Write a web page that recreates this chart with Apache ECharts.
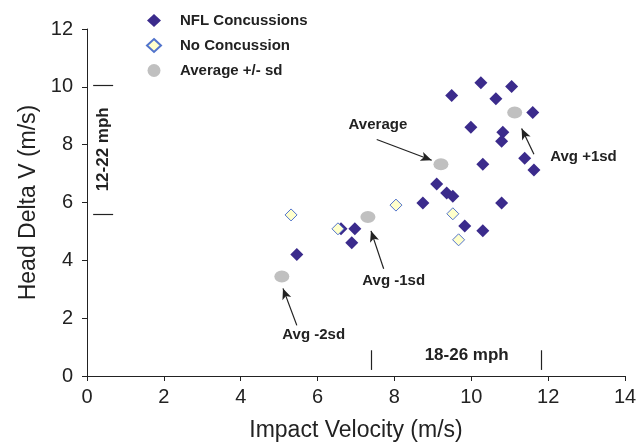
<!DOCTYPE html>
<html>
<head>
<meta charset="utf-8">
<script src="https://cdn.jsdelivr.net/npm/echarts@6/dist/echarts.min.js"></script>
<style>html,body{margin:0;padding:0;background:#fff}#c{width:644px;height:447px}</style>
</head>
<body>
<div id="c"></div>
<script>
// Data
const nflX = [5.46, 6.61, 6.97, 6.89, 8.74, 9.10, 9.36, 9.52, 9.83, 10.30, 10.79, 10.30, 9.99, 10.82, 10.79, 9.49, 10.25, 10.64, 11.05, 11.60, 11.39, 11.63];
const nflY = [4.20, 5.09, 5.09, 4.61, 5.98, 6.64, 6.33, 6.22, 5.19, 5.02, 5.98, 7.32, 8.60, 8.43, 8.12, 9.70, 10.14, 9.59, 10.01, 9.11, 7.53, 7.12];
const noX = [5.31, 6.53, 8.04, 9.52, 9.67];
const noY = [5.57, 5.09, 5.91, 5.61, 4.71];
const avgX = [5.07, 7.31, 9.21, 11.13];
const avgY = [3.44, 5.50, 7.32, 9.11];
const xTicks = [0, 2, 4, 6, 8, 10, 12, 14];
const yTicks = [0, 2, 4, 6, 8, 10, 12];
const seriesNames = ['NFL Concussions', 'No Concussion', 'Average +/- sd'];

// annotations (data units)
const annoText = ['Average', 'Avg +1sd', 'Avg -1sd', 'Avg -2sd', '18-26 mph', '12-22 mph'];
const annoX = [7.57, 12.92, 7.98, 5.90, 9.88, 0.42];
const annoY = [8.67, 7.57, 3.30, 1.41, 0.72, 7.84];
const annoRot = [0, 0, 0, 0, 0, 90];
const arrowFrom = [[7.54, 8.18], [11.63, 7.67], [7.72, 3.71], [5.46, 1.75]];
const arrowTo = [[8.97, 7.46], [11.31, 8.56], [7.39, 5.02], [5.10, 3.03]];
const bracketFrom = [[7.40, 0.21], [11.83, 0.21], [0.16, 10.04], [0.16, 5.58]];
const bracketTo = [[7.40, 0.89], [11.83, 0.89], [0.68, 10.04], [0.68, 5.58]];

const FONT = 'Liberation Sans, Arial, Helvetica, sans-serif';
const zip = (a, b) => a.map((v, i) => [v, b[i]]);

const chart = echarts.init(document.getElementById('c'), null, {renderer: 'canvas'});

const markLines = [];
arrowFrom.forEach((p, i) => markLines.push([{coord: p, symbol: 'none'}, {coord: arrowTo[i], symbol: 'arrow', symbolSize: [7, 11]}]));
bracketFrom.forEach((p, i) => markLines.push([{coord: p, symbol: 'none'}, {coord: bracketTo[i], symbol: 'none'}]));

const markPoints = annoText.map((t, i) => ({
  coord: [annoX[i], annoY[i]],
  symbol: 'rect', symbolSize: 0,
  label: {show: true, formatter: t, position: 'inside', rotate: annoRot[i],
    color: '#222', fontFamily: FONT, fontWeight: 'bold', fontSize: i >= 4 ? 17 : 15}
}));

chart.setOption({
  animation: false,
  backgroundColor: '#fff',
  grid: {left: 87, right: 19, top: 29, bottom: 69, containLabel: false},
  legend: {
    data: seriesNames,
    orient: 'vertical', left: 141, top: 8,
    itemWidth: 14, itemHeight: 13, itemGap: 10,
    textStyle: {fontFamily: FONT, fontWeight: 'bold', fontSize: 15, color: '#222', padding: [0, 0, 0, 14]}
  },
  xAxis: {
    type: 'value', min: 0, max: 14, interval: 2,
    name: 'Impact Velocity (m/s)', nameLocation: 'middle', nameGap: 43,
    nameTextStyle: {fontFamily: FONT, fontSize: 23, color: '#222'},
    axisLine: {lineStyle: {color: '#222', width: 1}},
    axisTick: {length: 5, lineStyle: {color: '#222'}},
    axisLabel: {fontFamily: FONT, fontSize: 20, color: '#222', margin: 11,
      formatter: v => xTicks.includes(v) ? String(v) : ''},
    splitLine: {show: false}
  },
  yAxis: {
    type: 'value', min: 0, max: 12, interval: 2,
    name: 'Head Delta V (m/s)', nameLocation: 'middle', nameGap: 46, nameRotate: 90,
    nameTextStyle: {fontFamily: FONT, fontSize: 23, color: '#222'},
    axisLine: {show: true, lineStyle: {color: '#222', width: 1}},
    axisTick: {show: true, length: 5, lineStyle: {color: '#222'}},
    axisLabel: {fontFamily: FONT, fontSize: 20, color: '#222', margin: 14,
      formatter: v => yTicks.includes(v) ? String(v) : ''},
    splitLine: {show: false}
  },
  series: [
    {
      name: seriesNames[0], type: 'scatter', symbol: 'diamond', symbolSize: 13,
      itemStyle: {color: '#3b2b8c', opacity: 1},
      data: zip(nflX, nflY), z: 2
    },
    {
      name: seriesNames[1], type: 'scatter', symbol: 'diamond', symbolSize: 12,
      itemStyle: {color: '#ffffcc', borderColor: '#5274cc', borderWidth: 1, opacity: 1},
      data: zip(noX, noY), z: 3
    },
    {
      name: seriesNames[2], type: 'scatter', symbol: 'circle', symbolSize: [15, 12],
      itemStyle: {color: '#c0c0c0', opacity: 1},
      data: zip(avgX, avgY), z: 2
    },
    {
      name: 'annotations', type: 'scatter', data: [], silent: true, z: 4,
      markLine: {
        silent: true, animation: false,
        lineStyle: {color: '#222', width: 1.2, type: 'solid'},
        label: {show: false},
        emphasis: {disabled: true},
        data: markLines
      },
      markPoint: {silent: true, animation: false, data: markPoints}
    }
  ]
});
</script>
</body>
</html>
